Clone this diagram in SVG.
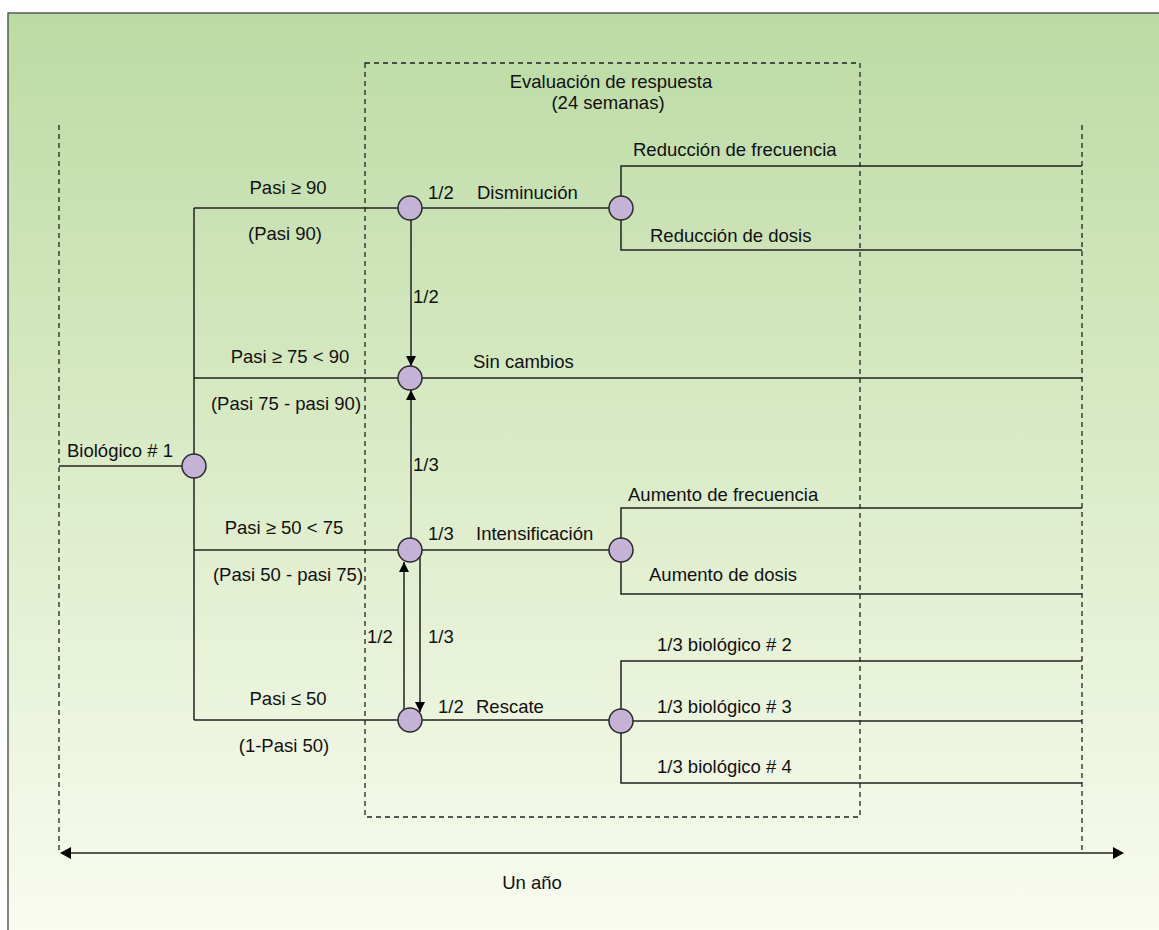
<svg xmlns="http://www.w3.org/2000/svg" width="1159" height="930" viewBox="0 0 1159 930">
<defs>
<linearGradient id="bg" x1="0" y1="0" x2="0" y2="1">
<stop offset="0" stop-color="#bbdba4"/>
<stop offset="0.5" stop-color="#dcecc9"/>
<stop offset="1" stop-color="#fafcf0"/>
</linearGradient>
<marker id="ah" viewBox="0 0 10 10" refX="10" refY="5" markerWidth="10" markerHeight="10" markerUnits="userSpaceOnUse" orient="auto">
<path d="M0,0 L10,5 L0,10 Z" fill="#000"/>
</marker>
<style>
text{font-family:"Liberation Sans",Arial,sans-serif;font-size:18.5px;fill:#111}
.c{text-anchor:middle}
.ln{stroke:#222;stroke-width:1.5;fill:none}
.ds{stroke:#222;stroke-width:1.3;fill:none;stroke-dasharray:5,4}
.nd{fill:#c4b3d7;stroke:#2a2a2a;stroke-width:1.5}
</style>
</defs>
<rect x="0" y="0" width="1159" height="930" fill="#fff"/>
<rect x="8" y="13" width="1160" height="930" fill="url(#bg)" stroke="#444" stroke-width="1.3"/>

<g id="guides">
<line class="ds" x1="59" y1="125" x2="59" y2="853"/>
<line class="ds" x1="1082" y1="125" x2="1082" y2="853"/>
<rect class="ds" x="365" y="63" width="495" height="754"/>
<text class="c" x="611" y="88">Evaluación de respuesta</text>
<text class="c" x="608" y="109">(24 semanas)</text>
</g>

<g id="connectors">
<line class="ln" x1="59" y1="466" x2="182" y2="466"/>
<line class="ln" x1="194" y1="208" x2="194" y2="720"/>
<line class="ln" x1="194" y1="208" x2="398" y2="208"/>
<line class="ln" x1="194" y1="378" x2="1082" y2="378"/>
<line class="ln" x1="194" y1="550" x2="609" y2="550"/>
<line class="ln" x1="194" y1="720" x2="609" y2="720"/>
<line class="ln" x1="422" y1="208" x2="609" y2="208"/>
<polyline class="ln" points="1082,166 621,166 621,250 1082,250"/>
<polyline class="ln" points="1082,508 621,508 621,594 1082,594"/>
<polyline class="ln" points="1082,661 621,661 621,783 1082,783"/>
<line class="ln" x1="633" y1="721" x2="1082" y2="721"/>
<line class="ln" x1="411" y1="220" x2="411" y2="366" marker-end="url(#ah)"/>
<line class="ln" x1="411" y1="538" x2="411" y2="390" marker-end="url(#ah)"/>
<line class="ln" x1="404" y1="720" x2="404" y2="562" marker-end="url(#ah)"/>
<line class="ln" x1="420" y1="556" x2="420" y2="712" marker-end="url(#ah)"/>
<line class="ln" x1="62" y1="853" x2="1122" y2="853" stroke-width="1.8"/>
<path d="M60,853 L71,847 L71,859 Z" fill="#000"/>
<path d="M1124,853 L1113,847 L1113,859 Z" fill="#000"/>
</g>

<g id="n-bio1"><circle class="nd" cx="194" cy="466" r="12"/><text x="67" y="457">Biológico # 1</text></g>
<g id="n-dism"><circle class="nd" cx="410" cy="208" r="12"/><text x="428" y="199">1/2</text><text x="477" y="199">Disminución</text></g>
<g id="n-sin"><circle class="nd" cx="410" cy="378" r="12"/><text x="473" y="368">Sin cambios</text></g>
<g id="n-int"><circle class="nd" cx="410" cy="550" r="12"/><text x="428" y="540">1/3</text><text x="476" y="540">Intensificación</text></g>
<g id="n-res"><circle class="nd" cx="410" cy="720" r="12"/><text x="438" y="713">1/2</text><text x="476" y="713">Rescate</text></g>
<g id="n-red"><circle class="nd" cx="621" cy="208" r="12"/></g>
<g id="n-aum"><circle class="nd" cx="621" cy="550" r="12"/></g>
<g id="n-bios"><circle class="nd" cx="621" cy="721" r="12"/></g>

<g id="labels">
<text class="c" x="288" y="194">Pasi ≥ 90</text>
<text class="c" x="285" y="240">(Pasi 90)</text>
<text class="c" x="290" y="363">Pasi ≥ 75 &lt; 90</text>
<text class="c" x="286" y="410">(Pasi 75 - pasi 90)</text>
<text class="c" x="284" y="534">Pasi ≥ 50 &lt; 75</text>
<text class="c" x="288" y="581">(Pasi 50 - pasi 75)</text>
<text class="c" x="288" y="705">Pasi ≤ 50</text>
<text class="c" x="284" y="752">(1-Pasi 50)</text>
<text x="413" y="303">1/2</text>
<text x="413" y="471">1/3</text>
<text x="367" y="643">1/2</text>
<text x="428" y="643">1/3</text>
<text x="633" y="156">Reducción de frecuencia</text>
<text x="650" y="242">Reducción de dosis</text>
<text x="628" y="501">Aumento de frecuencia</text>
<text x="649" y="581">Aumento de dosis</text>
<text x="657" y="651">1/3 biológico # 2</text>
<text x="657" y="713">1/3 biológico # 3</text>
<text x="657" y="773">1/3 biológico # 4</text>
<text class="c" x="532" y="889">Un año</text>
</g>
</svg>
